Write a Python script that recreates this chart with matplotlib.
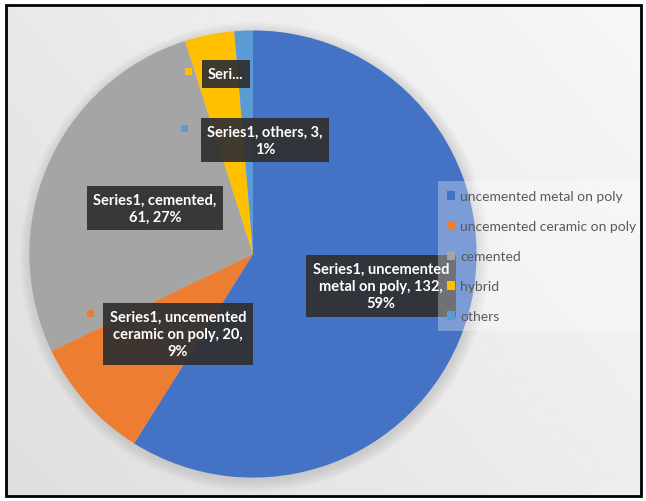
import numpy as np
import matplotlib
matplotlib.use('Agg')
import matplotlib.pyplot as plt
from matplotlib.patches import Rectangle, Circle

# dados
categorias = ['uncemented metal on poly', 'uncemented ceramic on poly', 'cemented', 'hybrid', 'others']
valores = [132, 20, 61, 8, 3]
cores = ['#4472C4', '#ED7D31', '#A5A5A5', '#FFC000', '#5B9BD5']
rotulos = ['Series1, uncemented\nmetal on poly, 132,\n59%',
           'Series1, uncemented\nceramic on poly, 20,\n9%',
           'Series1, cemented,\n61, 27%',
           'Seri...',
           'Series1, others, 3,\n1%']

W, H = 646, 502

def px(x, y):
    # converte pixel (origem no topo) para coordenadas da figura
    return x / W, 1 - y / H

fig = plt.figure(figsize=(W / 100, H / 100), dpi=100)
fig.patch.set_facecolor('white')

# fundo em degradê
bg = fig.add_axes([6 / W, 5 / H, 635 / W, 492 / H])
gx, gy = np.meshgrid(np.linspace(0, 1, 200), np.linspace(0, 1, 200))
grad = 0.87 + 0.10 * (0.6 * gx + 0.4 * gy)
bg.imshow(grad, cmap='gray', vmin=0, vmax=1, origin='lower', aspect='auto', extent=[0, 1, 0, 1])
bg.axis('off')

# pizza
ax = fig.add_axes([(253 - 237) / W, (H - 255 - 237) / H, 474 / W, 474 / H])
for r in np.linspace(1.0, 1.05, 8):
    ax.add_patch(Circle((0.008, -0.012), r, color='#808080', alpha=0.035, lw=0, zorder=0))
wedges, _ = ax.pie(valores, colors=cores, startangle=90, counterclock=False,
                   wedgeprops=dict(linewidth=0))
for w in wedges:
    w.set_zorder(2)
ax.set_xlim(-1.06, 1.06)
ax.set_ylim(-1.06, 1.06)
ax.set_aspect('equal')
ax.axis('off')

# rótulos de dados (caixas escuras)
pos_rotulos = [(381, 287), (178, 335), (155, 209), (226, 75), (265, 141)]
fonte = ['Lato', 'DejaVu Sans']
for i, (txt, (x, y)) in enumerate(zip(rotulos, pos_rotulos)):
    fx, fy = px(x, y)
    fig.text(fx, fy, txt, ha='center', va='center', color='white', fontsize=10.5,
             fontweight='bold', family=fonte, linespacing=1.3, zorder=5,
             bbox=dict(boxstyle='square,pad=0.45', facecolor='#303030', edgecolor='none', alpha=0.93))

# marcadores pequenos ao lado dos rótulos
marcas = [(1, 90, 315), (3, 188, 73), (4, 184, 130)]
for i, x, y in marcas:
    fx, fy = px(x, y)
    fig.patches.append(Rectangle((fx - 3 / W, fy - 3 / H), 7 / W, 7 / H, transform=fig.transFigure,
                                 facecolor=cores[i], edgecolor='none', zorder=6))

# legenda
handles = [Rectangle((0, 0), 1, 1, facecolor=c, edgecolor='none') for c in cores]
leg = fig.legend(handles, categorias, loc='upper left', bbox_to_anchor=px(438, 182),
                 frameon=True, facecolor='white', edgecolor='none', framealpha=0.3, fancybox=False,
                 borderaxespad=0, borderpad=0.65, handlelength=0.6, handleheight=0.6,
                 handletextpad=0.35, labelspacing=1.3, prop={'family': fonte, 'size': 10})
for t in leg.get_texts():
    t.set_color('#595959')
leg.set_zorder(7)

# moldura preta
fig.patches.append(Rectangle(px(6, 497), 635 / W, 491 / H, transform=fig.transFigure,
                             fill=False, edgecolor='black', linewidth=2, zorder=10))

fig.savefig('out.png', dpi=100)
